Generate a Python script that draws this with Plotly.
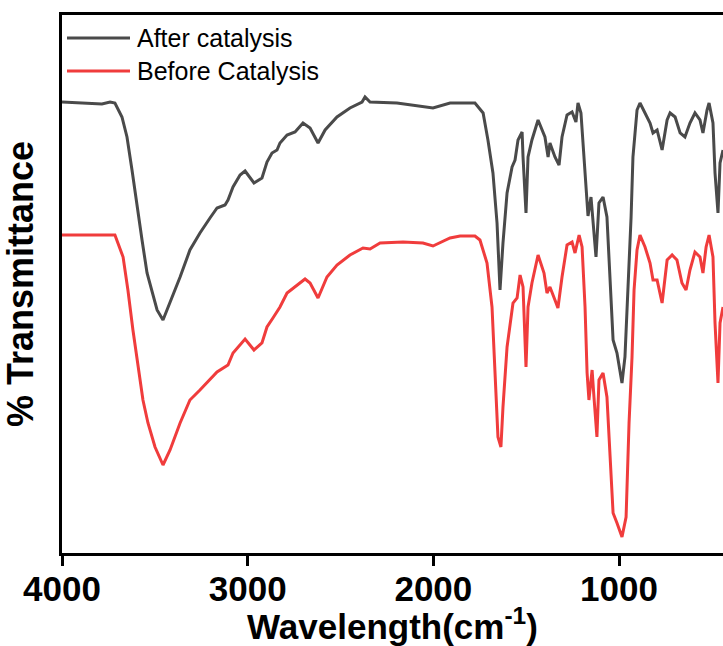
import plotly.graph_objects as go

# Wavenumber (cm^-1) and transmittance (arbitrary units)
after_wn = [4000, 3785, 3741, 3715, 3677, 3650, 3623, 3596, 3569, 3542, 3515, 3488, 3456,
            3418, 3364, 3311, 3257, 3203, 3165, 3122, 3106, 3079, 3041, 3014, 2966, 2923,
            2896, 2869, 2842, 2826, 2788, 2745, 2702, 2664, 2621, 2583, 2519, 2449, 2384,
            2368, 2341, 2196, 2002, 1910, 1776, 1732, 1706, 1679, 1657, 1641, 1625, 1603,
            1576, 1560, 1544, 1522, 1517, 1501, 1490, 1469, 1436, 1399, 1382, 1372, 1345,
            1323, 1307, 1280, 1253, 1232, 1221, 1205, 1183, 1167, 1151, 1140, 1124, 1108,
            1086, 1065, 1049, 1032, 1011, 984, 968, 952, 935, 925, 903, 887, 860, 833, 817,
            795, 768, 741, 725, 698, 671, 645, 618, 591, 564, 548, 526, 515, 494, 483, 467,
            456, 440]
after_t = [451, 449, 451, 450, 436, 416, 383, 346, 313, 280, 260, 243, 233,
           250, 276, 303, 320, 335, 345, 348, 353, 366, 378, 382, 370, 375,
           391, 400, 403, 410, 418, 421, 430, 425, 410, 423, 436, 445, 451,
           456, 451, 450, 445, 450, 450, 440, 413, 380, 330, 263, 310, 360,
           386, 393, 413, 421, 396, 340, 396, 413, 433, 416, 396, 410, 396,
           388, 416, 438, 441, 431, 450, 440, 380, 337, 356, 330, 296, 350,
           356, 336, 280, 213, 200, 170, 196, 263, 336, 396, 443, 450, 440, 430, 420,
           423, 403, 433, 440, 436, 420, 416, 430, 440, 433, 420, 443, 450, 430, 380, 340,
           390, 403]

before_wn = [4000, 3741, 3715, 3671, 3645, 3618, 3591, 3564, 3537, 3499, 3456, 3418, 3364,
             3311, 3257, 3203, 3165, 3106, 3079, 3014, 2966, 2923, 2896, 2864, 2826, 2788,
             2745, 2691, 2664, 2621, 2573, 2519, 2449, 2379, 2341, 2287, 2163, 2056, 2002,
             1910, 1856, 1776, 1749, 1711, 1684, 1668, 1652, 1636, 1625, 1603, 1587, 1571,
             1549, 1533, 1517, 1501, 1490, 1469, 1436, 1404, 1388, 1372, 1345, 1329, 1307,
             1280, 1253, 1237, 1215, 1199, 1183, 1172, 1162, 1145, 1135, 1119, 1108, 1086,
             1065, 1049, 1032, 1011, 984, 962, 946, 930, 919, 903, 887, 860, 833, 817, 795,
             768, 741, 714, 688, 661, 639, 618, 591, 564, 548, 531, 515, 494, 483, 467, 456,
             440]
before_t = [318, 318, 318, 296, 263, 223, 186, 153, 130, 106, 88, 103, 130,
            153, 163, 173, 181, 188, 200, 214, 203, 210, 226, 235, 246, 260,
            266, 274, 270, 255, 276, 288, 298, 305, 304, 310, 311, 310, 307,
            315, 317, 317, 313, 290, 246, 180, 116, 106, 146, 206, 230, 250,
            255, 278, 266, 186, 246, 270, 298, 280, 260, 266, 253, 245, 276,
            308, 311, 300, 318, 306, 246, 180, 153, 183, 156, 116, 173, 180,
            156, 96, 40, 30, 16, 36, 130, 196, 263, 303, 318, 306, 290, 273, 273,
            250, 293, 298, 293, 270, 263, 283, 301, 296, 280, 306, 318, 296, 230, 170, 230,
            246]

series_names = ["After catalysis", "Before Catalysis"]
series_colors = ["#4a4a4a", "#f03c3c"]
x_ticks = [4000, 3000, 2000, 1000]

W, H = 723, 646
L, R, T, B = 62, 0, 15, 93


def px_x(p):
    return (p - L) / (W - L - R)


def px_y(p):
    return (H - B - p) / (H - T - B)


fig = go.Figure()
for wn, tv, name, col in [(after_wn, after_t, series_names[0], series_colors[0]),
                          (before_wn, before_t, series_names[1], series_colors[1])]:
    fig.add_trace(go.Scatter(x=wn, y=tv, mode="lines", name=name,
                             line=dict(color=col, width=3), showlegend=False))

# manual legend
for i, (name, col) in enumerate(zip(series_names, series_colors)):
    yy = 38 + i * 33
    fig.add_shape(type="line", xref="paper", yref="paper",
                  x0=px_x(67), x1=px_x(130), y0=px_y(yy), y1=px_y(yy),
                  line=dict(color=col, width=3))
    fig.add_annotation(xref="paper", yref="paper", x=px_x(135), y=px_y(yy),
                       text=name, showarrow=False, xanchor="left", yanchor="middle",
                       font=dict(family="Liberation Sans, Arial", size=25, color="black"))

fig.update_layout(
    width=W, height=H,
    margin=dict(l=L, r=R, t=T, b=B),
    plot_bgcolor="white", paper_bgcolor="white",
    font=dict(family="Liberation Sans, Arial", color="black"),
)
fig.update_xaxes(range=[4000, 440], tickvals=x_ticks, ticktext=[str(v) for v in x_ticks],
                 showgrid=False, zeroline=False, showline=True, linecolor="black",
                 linewidth=3, mirror=True, ticks="outside", ticklen=10, tickwidth=3,
                 tickcolor="black", ticklabelstandoff=-7,
                 tickfont=dict(family="Liberation Sans, Arial", size=35, weight="bold"),
                 title=dict(text="Wavelength(cm<sup>-1</sup>)", standoff=6,
                            font=dict(family="Liberation Sans, Arial", size=35, weight="bold")))
fig.update_yaxes(range=[0, 538], showgrid=False, zeroline=False, showline=True,
                 linecolor="black", linewidth=3, mirror=False, showticklabels=False,
                 ticks="",
                 title=dict(text="% Transmittance", standoff=15,
                            font=dict(family="Liberation Sans, Arial", size=36, weight="bold")))

fig.write_html("out.html")
